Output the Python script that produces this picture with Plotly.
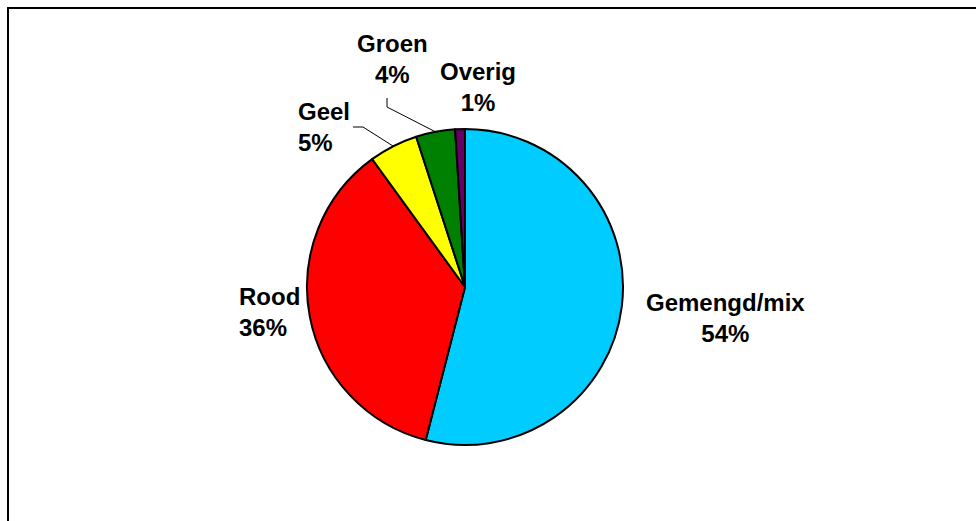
import math
import plotly.graph_objects as go

# data
labels = ["Gemengd/mix", "Rood", "Geel", "Groen", "Overig"]
values = [54, 36, 5, 4, 1]
colors = ["#00CCFF", "#FF0000", "#FFFF00", "#008000", "#660066"]

W, H = 976, 521
CX, CY, R = 465, 287, 158  # pie centre / radius in pixels

# label placement (pixels): x, y, xanchor, align
label_pos = {
    "Gemengd/mix": (725, 318, "center", "center"),
    "Rood": (237, 312, "left", "left"),
    "Geel": (296, 127, "left", "left"),
    "Groen": (392, 59, "center", "center"),
    "Overig": (478, 87, "center", "center"),
}
# leader line elbows (pixels), end point comes from slice mid angle
leader_elbow = {
    "Geel": [(353, 127), (363, 127)],
    "Groen": [(387, 98), (387, 107)],
}


def px(x):
    return x / W


def py(y):
    return 1 - y / H


fig = go.Figure(go.Pie(
    labels=labels,
    values=values,
    sort=False,
    direction="clockwise",
    rotation=0,
    marker=dict(colors=colors, line=dict(color="black", width=2)),
    textinfo="none",
    hoverinfo="label+percent",
    showlegend=False,
    domain=dict(x=[px(CX - R), px(CX + R)], y=[py(CY + R), py(CY - R)]),
))

total = sum(values)
annotations = []
shapes = []
cum = 0
for lab, v in zip(labels, values):
    mid = (cum + v / 2) / total * 2 * math.pi
    cum += v
    x, y, xa, al = label_pos[lab]
    pct = f"{round(v / total * 100)}%"
    annotations.append(dict(
        text=f"<b>{lab}</b><br><b>{pct}</b>",
        x=px(x), y=py(y), xref="paper", yref="paper",
        xanchor=xa, yanchor="middle", align=al, showarrow=False,
        font=dict(family="Liberation Sans, Arial, sans-serif", size=24, color="black"),
    ))
    if lab in leader_elbow:
        ex = CX + R * math.sin(mid)
        ey = CY - R * math.cos(mid)
        pts = leader_elbow[lab] + [(ex, ey)]
        path = "M " + " L ".join(f"{px(a)},{py(b)}" for a, b in pts)
        shapes.append(dict(type="path", path=path, xref="paper", yref="paper",
                           line=dict(color="black", width=1)))

# chart frame
shapes.append(dict(type="rect", xref="paper", yref="paper",
                   x0=px(8), x1=1.05, y0=-0.05, y1=py(8),
                   line=dict(color="black", width=2)))

fig.update_layout(
    width=W, height=H,
    margin=dict(l=0, r=0, t=0, b=0),
    paper_bgcolor="white",
    plot_bgcolor="white",
    annotations=annotations,
    shapes=shapes,
)

fig.write_html("out.html", config={"displayModeBar": False},
               post_script="document.body.style.margin='0';")
